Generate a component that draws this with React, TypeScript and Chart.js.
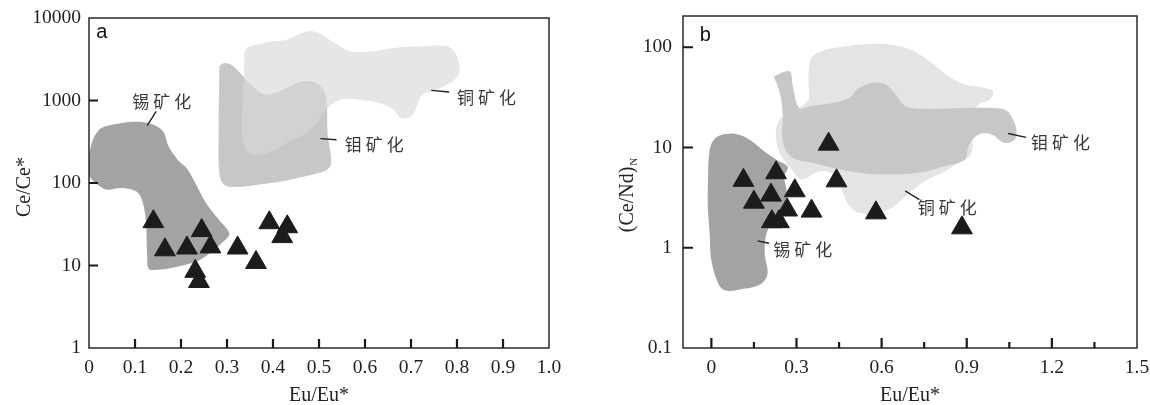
import React, { useEffect, useRef } from "react";
import { Chart, registerables } from "chart.js";

Chart.register(...registerables);

const SERIF = '"Liberation Serif", "Times New Roman", serif';
const SANS = '"Liberation Sans", Arial, sans-serif';
const CJK = '"Noto Sans CJK SC", sans-serif';

// ---------- Panel a : Eu/Eu* vs Ce/Ce* ----------
const A_X_TICKS = [0, 0.1, 0.2, 0.3, 0.4, 0.5, 0.6, 0.7, 0.8, 0.9, 1.0];
const A_X_LABELS = ["0", "0.1", "0.2", "0.3", "0.4", "0.5", "0.6", "0.7", "0.8", "0.9", "1.0"];
const A_Y_TICKS = [1, 10, 100, 1000, 10000];
const A_Y_LABELS = ["1", "10", "100", "1000", "10000"];

const A_SAMPLE_X = [0.14, 0.165, 0.213, 0.245, 0.264, 0.231, 0.239, 0.323, 0.363, 0.392, 0.431, 0.42];
const A_SAMPLE_Y = [34, 15.5, 16.3, 26.5, 16.8, 8.5, 6.4, 16.3, 10.9, 33, 29.5, 22.4];

const A_TIN_X = [-0.005, 0.006, 0.022, 0.041, 0.0955, 0.134, 0.161, 0.173, 0.1925, 0.212, 0.231, 0.2547, 0.282, 0.305, 0.297, 0.243, 0.196, 0.15, 0.13, 0.1265, 0.125, 0.1227, 0.115, 0.103, 0.072, 0.041, 0.0295, 0.01, -0.005];
const A_TIN_Y = [132, 305, 443, 495, 553, 524, 423, 278, 192, 152, 100, 57, 36, 24.8, 20.6, 11.8, 9.8, 8.9, 9.1, 12.9, 24.8, 39.4, 62.8, 79, 87, 83, 87, 105, 132];

const A_MO_X = [0.2834, 0.2935, 0.309, 0.3284, 0.3517, 0.3828, 0.4216, 0.4526, 0.4837, 0.507, 0.5163, 0.5186, 0.5264, 0.5148, 0.468, 0.4216, 0.3672, 0.3207, 0.2935, 0.2834, 0.2818, 0.2834];
const A_MO_Y = [2595, 2850, 2716, 2155, 1556, 1178, 1353, 1630, 1706, 1418, 1023, 404, 175, 142, 120, 105, 95.5, 89.5, 95.5, 132, 404, 2595];

const A_CU_X = [0.3377, 0.34, 0.3517, 0.3983, 0.4293, 0.476, 0.4992, 0.534, 0.569, 0.6157, 0.6623, 0.7244, 0.7787, 0.7981, 0.8059, 0.7943, 0.7554, 0.7244, 0.7127, 0.7011, 0.6778, 0.6623, 0.6312, 0.5846, 0.5458, 0.5148, 0.4915, 0.4604, 0.4293, 0.3983, 0.3672, 0.344, 0.3339, 0.3323, 0.3362, 0.3377];
const A_CU_Y = [3126, 4130, 4535, 5212, 5460, 6890, 6577, 4977, 3945, 3945, 4327, 4535, 4535, 3594, 2366, 1789, 1353, 1178, 849, 643, 614, 774, 933, 1023, 1023, 774, 509, 368, 305, 242, 220, 242, 335, 643, 1630, 3126];

const A_LABELS = ["锡矿化", "钼矿化", "铜矿化"];
const A_LABEL_X = [0.158, 0.62, 0.864];
const A_LABEL_Y = [977, 292, 1092];
const A_LEAD_X1 = [0.146, 0.503, 0.744];
const A_LEAD_Y1 = [740, 345, 1328];
const A_LEAD_X2 = [0.1265, 0.538, 0.783];
const A_LEAD_Y2 = [495, 335, 1268];

// ---------- Panel b : Eu/Eu* vs (Ce/Nd)N ----------
const B_X_TICKS = [0, 0.3, 0.6, 0.9, 1.2, 1.5];
const B_X_LABELS = ["0", "0.3", "0.6", "0.9", "1.2", "1.5"];
const B_X_MINOR = [0.15, 0.45, 0.75, 1.05, 1.35];
const B_Y_TICKS = [0.1, 1, 10, 100];
const B_Y_LABELS = ["0.1", "1", "10", "100"];

const B_SAMPLE_X = [0.113, 0.15, 0.228, 0.21, 0.294, 0.267, 0.213, 0.238, 0.353, 0.413, 0.441, 0.58, 0.883];
const B_SAMPLE_Y = [4.7, 2.85, 5.6, 3.35, 3.7, 2.38, 1.82, 1.82, 2.32, 10.8, 4.65, 2.23, 1.58];

const B_TIN_X = [-0.0125, -0.0063, 0.0125, 0.05, 0.094, 0.138, 0.188, 0.232, 0.269, 0.257, 0.263, 0.269, 0.257, 0.2256, 0.194, 0.188, 0.198, 0.175, 0.113, 0.05, 0.025, 0.0, -0.006, -0.0125, -0.0125];
const B_TIN_Y = [4.37, 9.4, 12.3, 13.6, 13.5, 11.8, 9.05, 7.47, 6.41, 5.09, 4.04, 2.97, 2.36, 2.03, 1.38, 0.871, 0.55, 0.436, 0.389, 0.374, 0.436, 0.747, 1.38, 2.55, 4.37];

const B_MO_X = [0.219, 0.275, 0.287, 0.31, 0.357, 0.427, 0.485, 0.52, 0.567, 0.614, 0.649, 0.684, 0.754, 0.894, 0.987, 1.034, 1.057, 1.075, 1.069, 1.034, 0.987, 0.941, 0.906, 0.894, 0.824, 0.73, 0.614, 0.52, 0.427, 0.357, 0.298, 0.263, 0.249, 0.252, 0.246, 0.234, 0.219];
const B_MO_Y = [51.3, 57.5, 40.8, 24.8, 26.2, 27.8, 31.2, 39.3, 44.1, 42.4, 33.7, 25.8, 24.3, 24.8, 24.8, 23.9, 20.5, 15.1, 12.0, 11.1, 13.5, 13.5, 10.3, 7.6, 6.53, 5.6, 5.4, 5.6, 6.28, 7.05, 7.6, 9.2, 13.0, 19.0, 30.1, 40.8, 51.3];

const B_CU_X = [0.345, 0.343, 0.357, 0.403, 0.473, 0.555, 0.637, 0.707, 0.777, 0.836, 0.894, 0.964, 0.993, 0.982, 0.941, 0.917, 0.917, 0.871, 0.824, 0.765, 0.719, 0.672, 0.637, 0.59, 0.532, 0.491, 0.468, 0.45, 0.421, 0.386, 0.357, 0.327, 0.304, 0.287, 0.263, 0.24, 0.228, 0.23, 0.246, 0.275, 0.31, 0.345];
const B_CU_Y = [30.1, 59.8, 81.1, 94.5, 102, 107.6, 106, 93.1, 69.6, 51.3, 42.4, 39.3, 36.4, 30.1, 26.8, 19.0, 8.85, 7.05, 5.82, 4.81, 3.97, 3.04, 2.51, 2.24, 2.2, 2.51, 3.28, 4.46, 5.6, 5.82, 5.4, 4.81, 4.99, 5.82, 7.05, 8.85, 12.0, 16.3, 19.8, 23.0, 24.8, 30.1];

const B_LABELS = ["钼矿化", "铜矿化", "锡矿化"];
const B_LABEL_X = [1.2306, 0.831, 0.322];
const B_LABEL_Y = [11.1, 2.51, 0.955];
const B_LEAD_X1 = [1.046, 0.683, 0.163];
const B_LEAD_Y1 = [13.8, 3.69, 1.17];
const B_LEAD_X2 = [1.109, 0.733, 0.203];
const B_LEAD_Y2 = [12.6, 3.02, 1.11];

const TIN_COLOR = "#a3a3a3";
const MO_COLOR = "#c7c7c7";
const CU_COLOR_A = "rgba(216,216,216,0.64)";
const CU_COLOR_B = "#e4e4e4";
const MARK_COLOR = "#1c1c1c";

const pts = (xs: number[], ys: number[]) => xs.map((x, i) => ({ x, y: ys[i] }));

const region = (xs: number[], ys: number[], color: string, order: number) => ({
  type: "line" as const,
  data: pts(xs, ys),
  showLine: true,
  fill: "shape",
  backgroundColor: color,
  borderColor: "rgba(0,0,0,0)",
  borderWidth: 0,
  pointRadius: 0,
  tension: 0.35,
  order,
});

const samples = (xs: number[], ys: number[]) => ({
  type: "scatter" as const,
  data: pts(xs, ys),
  pointStyle: "triangle",
  pointRadius: 12,
  backgroundColor: MARK_COLOR,
  borderColor: MARK_COLOR,
  borderWidth: 1,
  order: 0,
});

const decorPlugin = {
  id: "decor",
  afterDatasetsDraw(chart: any, _args: any, o: any) {
    const { ctx, chartArea: a } = chart;
    const sx = chart.scales.x;
    const sy = chart.scales.y;
    ctx.save();
    // frame
    ctx.strokeStyle = "#1a1a1a";
    ctx.lineWidth = 1.4;
    ctx.strokeRect(a.left, a.top, a.right - a.left, a.bottom - a.top);
    // inward ticks
    ctx.lineWidth = 2.2;
    ctx.beginPath();
    o.xMajor.forEach((v: number) => {
      const px = sx.getPixelForValue(v);
      ctx.moveTo(px, a.bottom);
      ctx.lineTo(px, a.bottom - o.xMajorLen);
    });
    o.xMinor.forEach((v: number) => {
      const px = sx.getPixelForValue(v);
      ctx.moveTo(px, a.bottom);
      ctx.lineTo(px, a.bottom - o.xMinorLen);
    });
    o.yMajor.forEach((v: number) => {
      const py = sy.getPixelForValue(v);
      ctx.moveTo(a.left, py);
      ctx.lineTo(a.left + o.yLen, py);
    });
    ctx.stroke();
    // leader lines
    ctx.strokeStyle = "#222";
    ctx.lineWidth = 1.4;
    ctx.beginPath();
    o.leadX1.forEach((_: number, i: number) => {
      ctx.moveTo(sx.getPixelForValue(o.leadX1[i]), sy.getPixelForValue(o.leadY1[i]));
      ctx.lineTo(sx.getPixelForValue(o.leadX2[i]), sy.getPixelForValue(o.leadY2[i]));
    });
    ctx.stroke();
    // region labels
    ctx.fillStyle = "#383838";
    ctx.font = `17px ${CJK}`;
    ctx.textAlign = "center";
    ctx.textBaseline = "middle";
    o.labels.forEach((t: string, i: number) => {
      const cx = sx.getPixelForValue(o.labelX[i]);
      const cy = sy.getPixelForValue(o.labelY[i]);
      const chars = Array.from(t);
      chars.forEach((c, j) => ctx.fillText(c, cx + (j - (chars.length - 1) / 2) * o.pitch, cy));
    });
    // panel letter
    ctx.fillStyle = "#111";
    ctx.font = `20px ${SANS}`;
    ctx.fillText(o.letter, sx.getPixelForValue(o.letterX), sy.getPixelForValue(o.letterY));
    // x title
    ctx.font = `20px ${SERIF}`;
    ctx.fillStyle = "#222";
    ctx.fillText("Eu/Eu*", (a.left + a.right) / 2, o.xTitleY);
    // y title (rotated)
    ctx.translate(o.yTitleX, o.yTitleY);
    ctx.rotate(-Math.PI / 2);
    ctx.font = `20px ${SERIF}`;
    const w = ctx.measureText(o.yTitle).width;
    let ws = 0;
    if (o.yTitleSub) {
      ctx.font = `11px ${SERIF}`;
      ws = ctx.measureText(o.yTitleSub).width + 1;
    }
    ctx.textAlign = "left";
    ctx.font = `20px ${SERIF}`;
    ctx.fillText(o.yTitle, -(w + ws) / 2, 0);
    if (o.yTitleSub) {
      ctx.font = `11px ${SERIF}`;
      ctx.fillText(o.yTitleSub, -(w + ws) / 2 + w + 1, 6);
    }
    ctx.restore();
  },
};

function labelFor(ticks: number[], labels: string[]) {
  return (value: any) => {
    const i = ticks.findIndex((t) => Math.abs(t - Number(value)) < 1e-9 * Math.max(1, Math.abs(t)));
    return i >= 0 ? labels[i] : "";
  };
}

function makeConfig(p: any): any {
  return {
    type: "scatter",
    data: { datasets: p.datasets },
    plugins: [decorPlugin],
    options: {
      animation: false,
      responsive: false,
      maintainAspectRatio: false,
      events: [],
      layout: { padding: { top: p.padTop, right: p.padRight, left: 0, bottom: 0 } },
      plugins: {
        legend: { display: false },
        tooltip: { enabled: false },
        decor: p.decor,
      },
      scales: {
        x: {
          type: "linear",
          min: p.xMin,
          max: p.xMax,
          grid: { display: false, drawTicks: false },
          border: { display: false },
          afterBuildTicks: (s: any) => {
            s.ticks = p.xTicks.map((v: number) => ({ value: v }));
          },
          afterFit: (s: any) => {
            s.height = p.xHeight;
            s.paddingLeft = 0;
            s.paddingRight = 0;
          },
          ticks: {
            autoSkip: false,
            maxRotation: 0,
            minRotation: 0,
            padding: p.xPad,
            color: "#222",
            font: { family: SERIF, size: 19.5 },
            callback: labelFor(p.xTicks, p.xLabels),
          },
        },
        y: {
          type: "logarithmic",
          min: p.yMin,
          max: p.yMax,
          grid: { display: false, drawTicks: false },
          border: { display: false },
          afterBuildTicks: (s: any) => {
            s.ticks = p.yTicks.map((v: number) => ({ value: v }));
          },
          afterFit: (s: any) => {
            s.width = p.yWidth;
            s.paddingTop = 0;
            s.paddingBottom = 0;
          },
          ticks: {
            autoSkip: false,
            padding: p.yPad,
            color: "#222",
            font: { family: SERIF, size: 19.5 },
            callback: labelFor(p.yTicks, p.yLabels),
          },
        },
      },
    },
  };
}

const PANEL_A = {
  datasets: [
    samples(A_SAMPLE_X, A_SAMPLE_Y),
    region(A_CU_X, A_CU_Y, CU_COLOR_A, 1),
    region(A_MO_X, A_MO_Y, MO_COLOR, 2),
    region(A_TIN_X, A_TIN_Y, TIN_COLOR, 3),
  ],
  xMin: 0,
  xMax: 1.0,
  yMin: 1,
  yMax: 10000,
  xTicks: A_X_TICKS,
  xLabels: A_X_LABELS,
  yTicks: A_Y_TICKS,
  yLabels: A_Y_LABELS,
  padTop: 18,
  padRight: 26,
  yWidth: 89,
  xHeight: 57,
  xPad: 8,
  yPad: 8,
  decor: {
    xMajor: [0.1, 0.2, 0.3, 0.4, 0.5, 0.6, 0.7, 0.8, 0.9],
    xMinor: [],
    xMajorLen: 9,
    xMinorLen: 0,
    yMajor: [10, 100, 1000],
    yLen: 9,
    labels: A_LABELS,
    labelX: A_LABEL_X,
    labelY: A_LABEL_Y,
    leadX1: A_LEAD_X1,
    leadY1: A_LEAD_Y1,
    leadX2: A_LEAD_X2,
    leadY2: A_LEAD_Y2,
    pitch: 21,
    letter: "a",
    letterX: 0.028,
    letterY: 6640,
    xTitleY: 396,
    yTitle: "Ce/Ce*",
    yTitleSub: "",
    yTitleX: 25,
    yTitleY: 187,
  },
};

const PANEL_B = {
  datasets: [
    samples(B_SAMPLE_X, B_SAMPLE_Y),
    region(B_TIN_X, B_TIN_Y, TIN_COLOR, 1),
    region(B_MO_X, B_MO_Y, MO_COLOR, 2),
    region(B_CU_X, B_CU_Y, CU_COLOR_B, 3),
  ],
  xMin: -0.1,
  xMax: 1.5,
  yMin: 0.1,
  yMax: 205,
  xTicks: B_X_TICKS,
  xLabels: B_X_LABELS,
  yTicks: B_Y_TICKS,
  yLabels: B_Y_LABELS,
  padTop: 16,
  padRight: 10,
  yWidth: 108,
  xHeight: 57,
  xPad: 8,
  yPad: 11,
  decor: {
    xMajor: [0, 0.3, 0.6, 0.9, 1.2],
    xMinor: B_X_MINOR,
    xMajorLen: 10,
    xMinorLen: 6,
    yMajor: [1, 10, 100],
    yLen: 10,
    labels: B_LABELS,
    labelX: B_LABEL_X,
    labelY: B_LABEL_Y,
    leadX1: B_LEAD_X1,
    leadY1: B_LEAD_Y1,
    leadX2: B_LEAD_X2,
    leadY2: B_LEAD_Y2,
    pitch: 21,
    letter: "b",
    letterX: -0.021,
    letterY: 130,
    xTitleY: 396,
    yTitle: "(Ce/Nd)",
    yTitleSub: "N",
    yTitleX: 53,
    yTitleY: 195,
  },
};

function Panel({ cfg, left }: { cfg: any; left: number }) {
  const ref = useRef<HTMLCanvasElement | null>(null);
  useEffect(() => {
    if (!ref.current) return;
    const chart = new Chart(ref.current, makeConfig(cfg));
    return () => chart.destroy();
  }, [cfg]);
  return (
    <canvas
      ref={ref}
      width={575}
      height={405}
      style={{ position: "absolute", left, top: 0, width: 575, height: 405 }}
    />
  );
}

export default function App() {
  return (
    <div
      style={{
        position: "fixed",
        left: 0,
        top: 0,
        width: 1150,
        height: 405,
        background: "#fff",
        overflow: "hidden",
      }}
    >
      <Panel cfg={PANEL_A} left={0} />
      <Panel cfg={PANEL_B} left={575} />
    </div>
  );
}
